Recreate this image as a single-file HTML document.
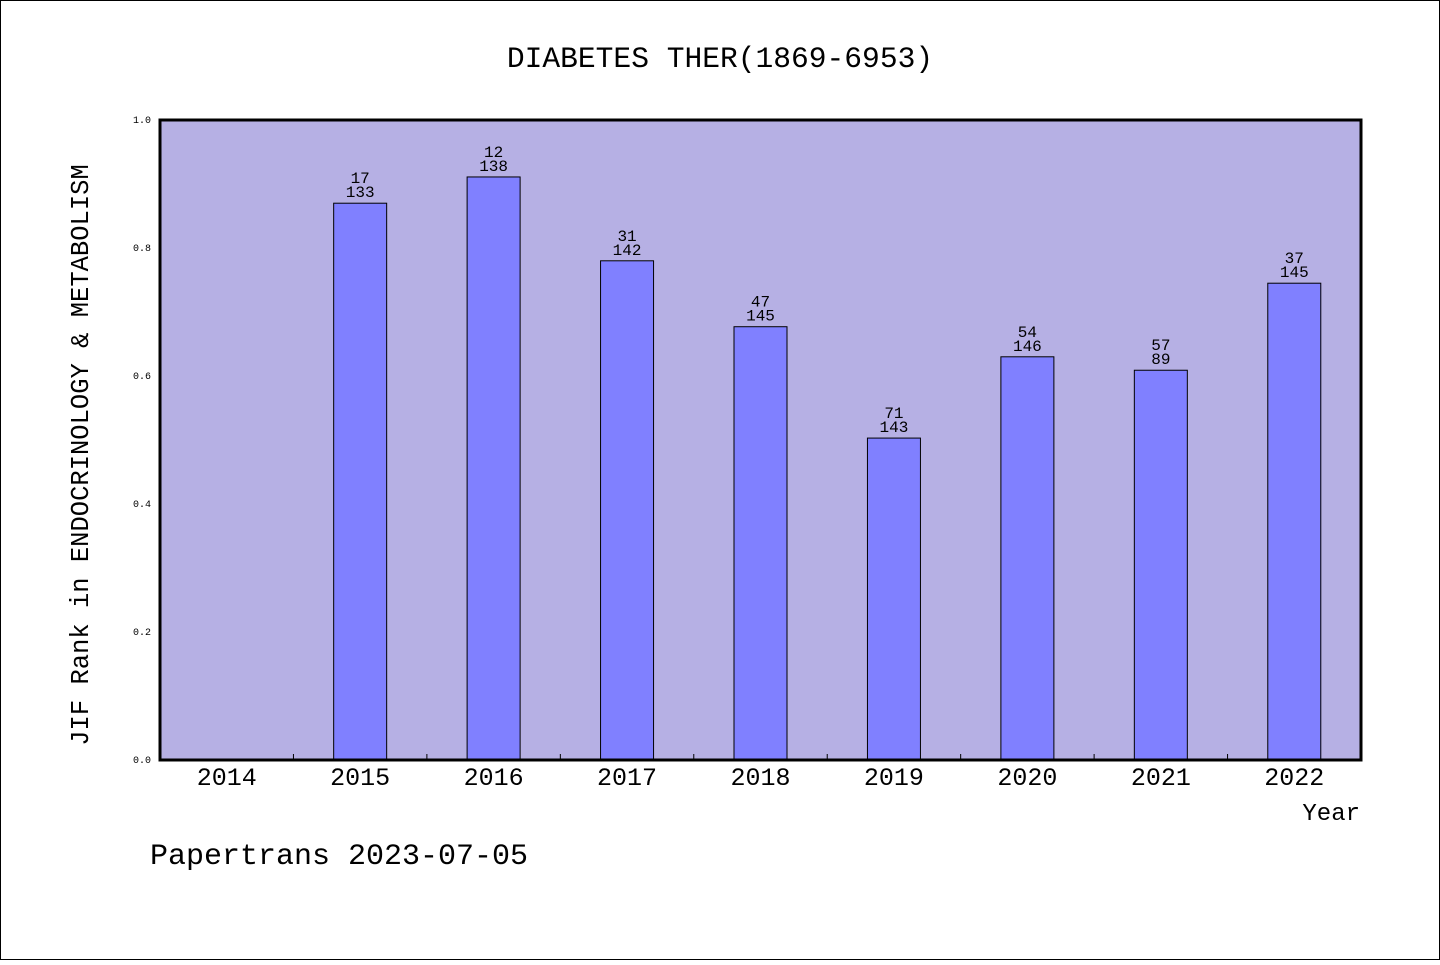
<!DOCTYPE html>
<html><head><meta charset="utf-8"><style>
body{margin:0;background:#fff}
svg text{font-family:"Liberation Mono","WenQuanYi Zen Hei",monospace;fill:#000}
</style></head><body>
<svg id="chart" width="1440" height="960" xmlns="http://www.w3.org/2000/svg">
<rect x="0.5" y="0.5" width="1439" height="959" fill="#fff" stroke="#000"/>
<text x="720" y="67" font-size="29.6" text-anchor="middle">DIABETES THER(1869-6953)</text>
<rect x="160" y="120" width="1201" height="640" fill="#b6b0e4"/>
<g id="bars"></g>
<g id="ticks"></g>
<rect x="160" y="120" width="1201" height="640" fill="none" stroke="#000" stroke-width="3"/>
<text transform="translate(88,455) rotate(-90)" font-size="25.5" text-anchor="middle">JIF Rank in ENDOCRINOLOGY &amp; METABOLISM</text>
<text x="1360" y="820" font-size="24" text-anchor="end">Year</text>
<text x="150" y="864" font-size="30">Papertrans 2023-07-05</text>
</svg>
<script>
const categories=["2014","2015","2016","2017","2018","2019","2020","2021","2022"];
const values=[null,0.870,0.911,0.780,0.677,0.503,0.630,0.609,0.745];
const ranks=[null,"17","12","31","47","71","54","57","37"];
const totals=[null,"133","138","142","145","143","146","89","145"];
const yTicks=[0,0.2,0.4,0.6,0.8,1.0];
const x0=160,x1=1361,y0=760,y1=120;
const slot=(x1-x0)/categories.length;
const xs=i=>x0+slot*(i+0.5);
const ys=v=>y0-(y0-y1)*v;
const NS="http://www.w3.org/2000/svg";
const bars=document.getElementById('bars'),ticks=document.getElementById('ticks');
function mk(tag,attrs,parent,txt){const e=document.createElementNS(NS,tag);for(const k in attrs)e.setAttribute(k,attrs[k]);if(txt!==undefined)e.textContent=txt;parent.appendChild(e);return e;}
categories.forEach((c,i)=>{
  const t=mk('text',{x:xs(i),y:785,'font-size':25,'text-anchor':'middle'},ticks,c);
  
  
  if(i>0){const l=mk('line',{x1:x0+slot*i,x2:x0+slot*i,y1:760,y2:754,stroke:'#000','stroke-width':1},ticks);
    
    }
  const v=values[i];
  if(v==null)return;
  const w=53,top=ys(v);
  const r=mk('rect',{x:xs(i)-w/2,y:top,width:w,height:y0-top,fill:'#8080ff',stroke:'#000','stroke-width':1},bars);
  
  
  const a=mk('text',{x:xs(i),y:top-20,'font-size':16,'text-anchor':'middle'},bars,ranks[i]);
  
  
  const b=mk('text',{x:xs(i),y:top-6,'font-size':16,'text-anchor':'middle'},bars,totals[i]);
  
  
});
yTicks.forEach(v=>{
  const t=mk('text',{x:151,y:ys(v)+3,'font-size':10,'text-anchor':'end'},ticks,v.toFixed(1));
  
  
});
</script>
</body></html>
